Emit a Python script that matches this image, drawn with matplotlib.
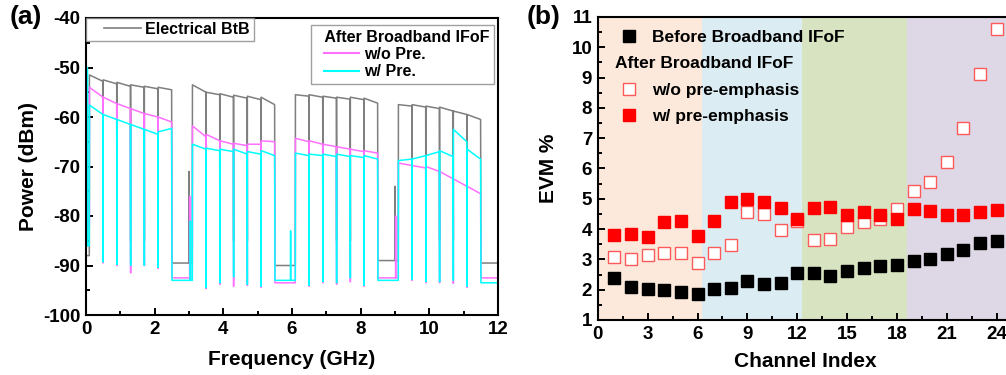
import numpy as np
import matplotlib
matplotlib.use('Agg')
import matplotlib.pyplot as plt
from matplotlib.lines import Line2D
from matplotlib.legend_handler import HandlerLine2D
from matplotlib.ticker import MultipleLocator

plt.rcParams['font.family'] = ['Liberation Sans', 'DejaVu Sans']
plt.rcParams['font.weight'] = 'bold'
plt.rcParams['axes.labelweight'] = 'bold'
plt.rcParams['axes.unicode_minus'] = False

# ---------------- (a) spectrum data ----------------
# channel edges (GHz) of the four broadband bands
band_edges = [
    [0.1, 0.5, 0.9, 1.3, 1.7, 2.1, 2.5],
    [3.1, 3.5, 3.9, 4.3, 4.7, 5.1, 5.5],
    [6.1, 6.5, 6.9, 7.3, 7.7, 8.1, 8.5],
    [9.1, 9.5, 9.9, 10.3, 10.7, 11.1, 11.5],
]

# power (dBm) at start / end of each of the 24 channels
btb_start = [-51.5, -52.5, -53.0, -53.5, -53.8, -54.0,
             -53.5, -55.0, -55.3, -55.6, -55.8, -56.0,
             -55.5, -55.5, -55.8, -56.0, -56.0, -56.2,
             -57.5, -57.5, -57.8, -58.0, -58.8, -59.5]
btb_end = [-52.8, -53.3, -53.8, -54.0, -54.3, -54.5,
           -55.0, -55.5, -56.0, -56.2, -56.5, -57.5,
           -55.8, -56.0, -56.2, -56.4, -56.5, -57.2,
           -57.8, -58.0, -58.3, -58.8, -59.5, -60.5]

wo_start = [-54.0, -56.0, -57.3, -58.3, -59.3, -60.0,
            -61.8, -63.5, -64.8, -65.3, -65.5, -64.8,
            -64.3, -64.8, -65.5, -66.0, -66.5, -66.8,
            -69.3, -69.8, -70.0, -71.0, -72.5, -74.0]
wo_end = [-56.0, -57.3, -58.3, -59.3, -60.0, -61.0,
          -64.0, -64.8, -65.5, -65.8, -65.5, -65.0,
          -65.0, -65.5, -66.0, -66.5, -67.0, -67.3,
          -69.8, -70.3, -71.0, -72.5, -74.0, -75.5]

w_start = [-57.6, -59.5, -60.5, -61.5, -62.5, -63.0,
           -65.5, -66.3, -66.5, -66.5, -67.0, -66.8,
           -67.3, -67.5, -67.5, -67.5, -67.8, -67.8,
           -68.8, -68.5, -67.8, -66.8, -62.5, -66.5]
w_end = [-59.5, -60.5, -61.5, -62.5, -63.5, -62.3,
         -66.5, -66.8, -67.0, -67.5, -67.5, -67.8,
         -67.8, -67.8, -68.0, -68.0, -68.2, -68.5,
         -68.5, -67.8, -67.0, -68.0, -65.0, -68.5]

# depth of the dips between neighbouring channels
w_dips = [-89.3, -89.8, -90.0, -90.0, -90.4,
          -94.5, -93.5, -92.3, -93.8, -94.2,
          -94.0, -93.3, -93.5, -92.5, -94.0,
          -92.8, -93.3, -93.3, -93.0, -94.2]
wo_dips = [-89.5, -90.0, -91.5, -90.0, -90.6,
           -94.7, -93.8, -94.2, -94.0, -94.4,
           -94.2, -93.5, -93.8, -93.3, -94.2,
           -93.0, -93.5, -93.5, -93.6, -94.4]
btb_dips = [-85.0] * 20

# noise floor before the first band and in the gaps after each band
btb_floor = [-88.0, -89.5, -90.0, -89.0, -89.5]
wo_floor = [-82.0, -92.5, -93.5, -92.5, -92.5]
w_floor = [-86.0, -93.0, -93.0, -93.0, -93.5]

# narrow spikes (GHz, dBm)
btb_spikes = [(3.0, -71.0), (9.0, -74.0)]
wo_spikes = [(0.08, -77.0), (3.02, -76.0), (9.02, -80.0)]
w_spikes = [(0.04, -50.0), (3.04, -81.0), (5.96, -83.0)]

# ---------------- (b) EVM data ----------------
channel = list(range(1, 25))
evm_before = [2.40, 2.10, 2.01, 1.99, 1.94, 1.87, 2.02, 2.04, 2.30, 2.18, 2.22, 2.55,
              2.55, 2.46, 2.62, 2.71, 2.78, 2.81, 2.96, 3.00, 3.17, 3.31, 3.53, 3.62]
evm_wo = [3.07, 3.00, 3.15, 3.21, 3.21, 2.87, 3.22, 3.49, 4.55, 4.49, 3.98, 4.28,
          3.64, 3.67, 4.08, 4.25, 4.33, 4.66, 5.26, 5.54, 6.21, 7.34, 9.12, 10.60]
evm_w = [3.80, 3.83, 3.74, 4.25, 4.28, 3.76, 4.26, 4.88, 5.00, 4.91, 4.68, 4.34,
         4.71, 4.72, 4.47, 4.55, 4.45, 4.34, 4.66, 4.61, 4.47, 4.45, 4.55, 4.63]

# shaded channel groups (x start, x end, colour)
regions = [(0.0, 6.26, '#FCE9DB'), (6.26, 12.27, '#DBEDF3'),
           (12.27, 18.62, '#D8E4C1'), (18.62, 25.0, '#DED7E5')]


def build_trace(ch_start, ch_end, dips, floors, spikes):
    xs, ys = [0.0], [floors[0]]
    k = 0
    d = 0
    for b, edges in enumerate(band_edges):
        xs.append(edges[0] - 0.004)
        ys.append(floors[b])
        for i in range(6):
            lo, hi = edges[i], edges[i + 1]
            xs += [lo, hi - 0.006]
            ys += [ch_start[k], ch_end[k]]
            if i < 5:
                xs.append(hi)
                ys.append(dips[d])
                d += 1
            k += 1
        xs.append(edges[-1] + 0.004)
        ys.append(floors[b + 1])
    xs.append(12.0)
    ys.append(floors[-1])
    x = np.array(xs)
    y = np.array(ys)
    for f, lvl in spikes:
        base = np.interp(f, x, y)
        idx = np.searchsorted(x, f)
        x = np.insert(x, idx, [f - 0.003, f, f + 0.003])
        y = np.insert(y, idx, [base, lvl, base])
    return x, y


fig = plt.figure(figsize=(10.06, 3.75), dpi=100)

# ---------------- panel (a) ----------------
ax1 = fig.add_axes([0.0855, 0.16, 0.4095, 0.792])
c_btb, c_wo, c_w = '#7F7F7F', '#FF70FF', '#00FFFF'
x, y = build_trace(btb_start, btb_end, btb_dips, btb_floor, btb_spikes)
ax1.plot(x, y, color=c_btb, lw=1.1)
x, y = build_trace(wo_start, wo_end, wo_dips, wo_floor, wo_spikes)
ax1.plot(x, y, color=c_wo, lw=1.1)
x, y = build_trace(w_start, w_end, w_dips, w_floor, w_spikes)
ax1.plot(x, y, color=c_w, lw=1.1)

ax1.set_xlim(0, 12)
ax1.set_ylim(-100, -40)
ax1.xaxis.set_major_locator(MultipleLocator(2))
ax1.xaxis.set_minor_locator(MultipleLocator(1))
ax1.yaxis.set_major_locator(MultipleLocator(10))
ax1.yaxis.set_minor_locator(MultipleLocator(5))
ax1.set_xlabel('Frequency (GHz)', fontsize=15, labelpad=9)
ax1.set_ylabel('Power (dBm)', fontsize=15, labelpad=4)

leg1 = ax1.legend(handles=[Line2D([0], [0], color=c_btb, lw=1.2)], labels=['Electrical BtB'],
                  loc='upper left', bbox_to_anchor=(0.0, 1.0), borderaxespad=0,
                  fontsize=11.5, frameon=True, fancybox=False, edgecolor='#888888',
                  handlelength=3.2, handletextpad=0.25, borderpad=0.25,
                  handler_map={Line2D: HandlerLine2D(xpad=0.9)})
leg1.get_frame().set_linewidth(1.0)
ax1.add_artist(leg1)
leg2 = ax1.legend(handles=[Line2D([0], [0], color=c_wo, lw=1.5), Line2D([0], [0], color=c_w, lw=1.5)],
                  labels=['w/o Pre.', 'w/ Pre.'], title='  After Broadband IFoF',
                  title_fontproperties={'size': 11.5, 'weight': 'bold'},
                  loc='upper right', bbox_to_anchor=(0.99, 0.977), borderaxespad=0,
                  fontsize=11.5, frameon=True, fancybox=False, edgecolor='#888888',
                  handlelength=2.75, handletextpad=0.3, labelspacing=0.15,
                  borderpad=0.3, alignment='left',
                  handler_map={Line2D: HandlerLine2D(xpad=0.5)})
leg2.get_frame().set_linewidth(1.0)
fig.text(0.01, 0.955, '(a)', fontsize=19, fontweight='bold', va='center')

# ---------------- panel (b) ----------------
ax2 = fig.add_axes([0.5942, 0.1467, 0.4131, 0.808])
for x0, x1, col in regions:
    ax2.axvspan(x0, x1, color=col, lw=0, zorder=0)
ax2.plot(channel, evm_before, 's', color='black', ms=8, ls='none', zorder=3)
ax2.plot(channel, evm_wo, 's', mfc='white', mec='#FF5A5A', mew=1.0, ms=8, ls='none', zorder=3)
ax2.plot(channel, evm_w, 's', color='red', ms=8, ls='none', zorder=3)

ax2.set_xlim(0, 25)
ax2.set_ylim(1, 11)
ax2.xaxis.set_major_locator(MultipleLocator(3))
ax2.xaxis.set_minor_locator(MultipleLocator(1.5))
ax2.yaxis.set_major_locator(MultipleLocator(1))
ax2.yaxis.set_minor_locator(MultipleLocator(0.5))
ax2.spines['right'].set_visible(False)
ax2.set_xlabel('Channel Index', fontsize=15, labelpad=6.5)
ax2.set_ylabel('EVM %', fontsize=15, labelpad=10)

h_before = Line2D([0], [0], marker='s', color='black', ms=8, ls='none')
h_blank = Line2D([0], [0], marker='', ls='none')
h_wo = Line2D([0], [0], marker='s', mfc='white', mec='#FF5A5A', mew=1.0, ms=8, ls='none')
h_w = Line2D([0], [0], marker='s', color='red', ms=8, ls='none')
leg3 = ax2.legend(handles=[h_before, h_blank, h_wo, h_w],
                  labels=['Before Broadband IFoF', ' ', 'w/o pre-emphasis', 'w/ pre-emphasis'],
                  loc='upper left', bbox_to_anchor=(0.0, 1.0), borderaxespad=0,
                  fontsize=12.5, frameon=True, fancybox=False, edgecolor='#E6E6E6',
                  framealpha=0.0, handlelength=2.1, handletextpad=0.3,
                  labelspacing=0.65, borderpad=0.75)
ax2.text(0.042, 0.848, 'After Broadband IFoF', transform=ax2.transAxes,
         fontsize=12.5, fontweight='bold', va='center', ha='left', zorder=5)
fig.text(0.523, 0.955, '(b)', fontsize=19, fontweight='bold', va='center')

for ax in (ax1, ax2):
    for s in ax.spines.values():
        s.set_linewidth(1.5)
    ax.tick_params(which='both', direction='in', width=1.4, labelsize=13.5, pad=4)
    ax.tick_params(which='major', length=5)
    ax.tick_params(which='minor', length=3)
    for lab in ax.get_xticklabels() + ax.get_yticklabels():
        lab.set_fontweight('bold')

fig.savefig('out.png', dpi=100)
